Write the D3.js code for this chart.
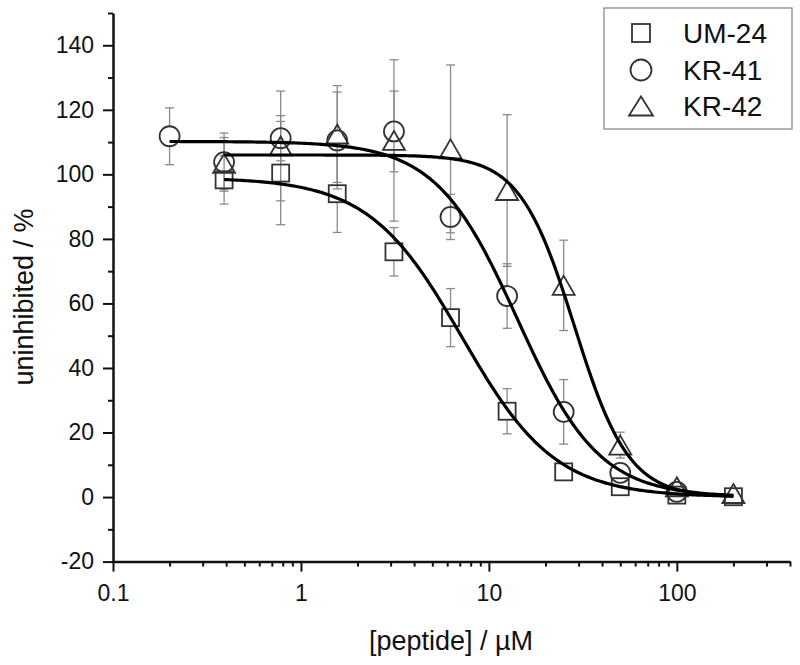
<!DOCTYPE html>
<html>
<head>
<meta charset="utf-8">
<script src="https://d3js.org/d3.v7.min.js"></script>
<style>
  html, body { margin: 0; padding: 0; background: #fff; }
  svg { display: block; }
  text { font-family: "Liberation Sans", Arial, sans-serif; fill: #111; }
</style>
</head>
<body>
<svg id="chart" width="800" height="665"></svg>
<script>
// ---- data ----
const seriesNames = ["UM-24", "KR-41", "KR-42"];
const seriesShapes = ["square", "circle", "triangle"];

const concUM24 = [0.39, 0.78, 1.56, 3.125, 6.25, 12.5, 25, 50, 100, 200];
const valUM24  = [98.3, 100.4, 94, 76, 55.6, 26.6, 7.8, 3.2, 0.6, 0.1];
const errUM24  = [7.5, 16, 12, 7.5, 9, 7, 1.5, 1.2, 1, 1];

const concKR41 = [0.2, 0.39, 0.78, 1.56, 3.125, 6.25, 12.5, 25, 50, 100];
const valKR41  = [111.8, 103.8, 111.2, 110.5, 113.3, 86.8, 62.3, 26.4, 7.5, 1.6];
const errKR41  = [8.8, 9, 7, 15, 12.5, 7, 10, 10, 3, 1];

const concKR42 = [0.39, 0.78, 1.56, 3.125, 6.25, 12.5, 25, 50, 100, 200];
const valKR42  = [103.4, 108.8, 112.5, 110.5, 107.9, 95, 65.6, 16.1, 3.2, 1.1];
const errKR42  = [8, 17, 15, 25, 26, 23.5, 14, 4, 1.5, 1.5];

// fitted dose-response curves (parameters estimated from the drawn curves)
const fitTop    = [99, 110.2, 106];
const fitBottom = [0, 0, 0];
const fitIC50   = [7.2, 14.2, 28.5];
const fitHill   = [1.75, 2.0, 3.0];
const fitStart  = [0.39, 0.2, 0.39];
const fitEnd    = [200, 200, 200];

const xMajorTicks = [0.1, 1, 10, 100];
const xMajorLabels = ["0.1", "1", "10", "100"];
const xMinorTicks = [0.2,0.3,0.4,0.5,0.6,0.7,0.8,0.9,2,3,4,5,6,7,8,9,20,30,40,50,60,70,80,90,200,300,400];
const yMajorTicks = [-20, 0, 20, 40, 60, 80, 100, 120, 140];
const yMajorLabels = ["-20", "0", "20", "40", "60", "80", "100", "120", "140"];
const yMinorTicks = [-10, 10, 30, 50, 70, 90, 110, 130, 150];

const xTitle = "[peptide] / µM";
const yTitle = "uninhibited / %";

// ---- build ----
const series = [
  {name: seriesNames[0], shape: seriesShapes[0], conc: concUM24, val: valUM24, err: errUM24},
  {name: seriesNames[1], shape: seriesShapes[1], conc: concKR41, val: valKR41, err: errKR41},
  {name: seriesNames[2], shape: seriesShapes[2], conc: concKR42, val: valKR42, err: errKR42}
];

const svg = d3.select("#chart");
const x = d3.scaleLog().domain([0.1, 400]).range([113, 790]);
const y = d3.scaleLinear().domain([-20, 150]).range([561.6, 13]);

const markerColor = "#333";
const errColor = "#8a8a8a";

// axes
const gx = svg.append("g").attr("transform", `translate(0,${y(-20)})`);
gx.call(d3.axisBottom(x).tickValues(xMinorTicks).tickSize(5).tickSizeOuter(0).tickFormat(""));
gx.select(".domain").remove();
const gx2 = svg.append("g").attr("transform", `translate(0,${y(-20)})`);
gx2.call(d3.axisBottom(x).tickValues(xMajorTicks).tickSize(10).tickSizeOuter(0).tickPadding(13)
  .tickFormat((d, i) => xMajorLabels[i]));

const gy = svg.append("g").attr("transform", `translate(${x(0.1)},0)`);
gy.call(d3.axisLeft(y).tickValues(yMinorTicks).tickSize(5).tickSizeOuter(0).tickFormat(""));
gy.select(".domain").remove();
const gy2 = svg.append("g").attr("transform", `translate(${x(0.1)},0)`);
gy2.call(d3.axisLeft(y).tickValues(yMajorTicks).tickSize(10).tickSizeOuter(0).tickPadding(9)
  .tickFormat((d, i) => yMajorLabels[i]));

[gx, gx2, gy, gy2].forEach(g => {
  g.selectAll(".tick line").attr("stroke", "#111").attr("stroke-width", 2);
  g.selectAll(".domain").attr("stroke", "#111").attr("stroke-width", 2.5);
  g.selectAll(".tick text").style("font-size", "23px").attr("fill", "#111");
});

// axis titles
svg.append("text").attr("x", 451).attr("y", 650).attr("text-anchor", "middle")
  .style("font-size", "27px").text(xTitle);
svg.append("text").attr("transform", "translate(33,297) rotate(-90)").attr("text-anchor", "middle")
  .style("font-size", "27px").text(yTitle);

// marker shape helper
function drawMarker(g, shape, cx, cy, s) {
  if (shape === "square") {
    g.append("rect").attr("x", cx - s.sq / 2).attr("y", cy - s.sq / 2)
      .attr("width", s.sq).attr("height", s.sq);
  } else if (shape === "circle") {
    g.append("circle").attr("cx", cx).attr("cy", cy).attr("r", s.r);
  } else {
    const w = s.tw, h = s.th;
    g.append("path").attr("d", `M${cx},${cy - h / 2}L${cx + w / 2},${cy + h / 2}L${cx - w / 2},${cy + h / 2}Z`);
  }
}
const mSize = {sq: 17, r: 10, tw: 22, th: 19};
const halfSize = {square: 8.5, circle: 10, triangle: 9.5};

// error bars
const errG = svg.append("g").attr("stroke", errColor).attr("stroke-width", 1.3).attr("fill", "none");
series.forEach(s => {
  s.conc.forEach((c, i) => {
    const cx = x(c), cy = y(s.val[i]);
    const yt = y(s.val[i] + s.err[i]), yb = y(s.val[i] - s.err[i]);
    const hs = halfSize[s.shape];
    if (yt < cy - hs) {
      errG.append("line").attr("x1", cx).attr("x2", cx).attr("y1", cy - hs).attr("y2", yt);
      errG.append("line").attr("x1", cx - 4.5).attr("x2", cx + 4.5).attr("y1", yt).attr("y2", yt);
    }
    if (yb > cy + hs) {
      errG.append("line").attr("x1", cx).attr("x2", cx).attr("y1", cy + hs).attr("y2", yb);
      errG.append("line").attr("x1", cx - 4.5).attr("x2", cx + 4.5).attr("y1", yb).attr("y2", yb);
    }
  });
});

// markers
const mG = svg.append("g").attr("stroke", markerColor).attr("stroke-width", 1.8).attr("fill", "none");
series.forEach(s => {
  s.conc.forEach((c, i) => drawMarker(mG, s.shape, x(c), y(s.val[i]), mSize));
});

// fitted curves
const line = d3.line().x(d => x(d[0])).y(d => y(d[1])).curve(d3.curveLinear);
const curveG = svg.append("g").attr("stroke", "#000").attr("stroke-width", 3.2).attr("fill", "none");
series.forEach((s, k) => {
  const lo = Math.log10(fitStart[k]), hi = Math.log10(fitEnd[k]);
  const pts = d3.range(0, 201).map(j => {
    const c = Math.pow(10, lo + (hi - lo) * j / 200);
    const v = fitBottom[k] + (fitTop[k] - fitBottom[k]) / (1 + Math.pow(c / fitIC50[k], fitHill[k]));
    return [c, v];
  });
  curveG.append("path").attr("d", line(pts));
});

// legend
const lg = svg.append("g");
lg.append("rect").attr("x", 604).attr("y", 8).attr("width", 188).attr("height", 121)
  .attr("fill", "#fff").attr("stroke", "#8a8a8a").attr("stroke-width", 1.3);
const legY = [33, 70, 106];
const lmG = lg.append("g").attr("stroke", markerColor).attr("stroke-width", 1.8).attr("fill", "none");
series.forEach((s, i) => {
  drawMarker(lmG, s.shape, 641, legY[i], {sq: 18, r: 10.5, tw: 24, th: 19});
  lg.append("text").attr("x", 683).attr("y", legY[i]).attr("dy", "0.36em")
    .style("font-size", "28px").text(s.name);
});
</script>
</body>
</html>
